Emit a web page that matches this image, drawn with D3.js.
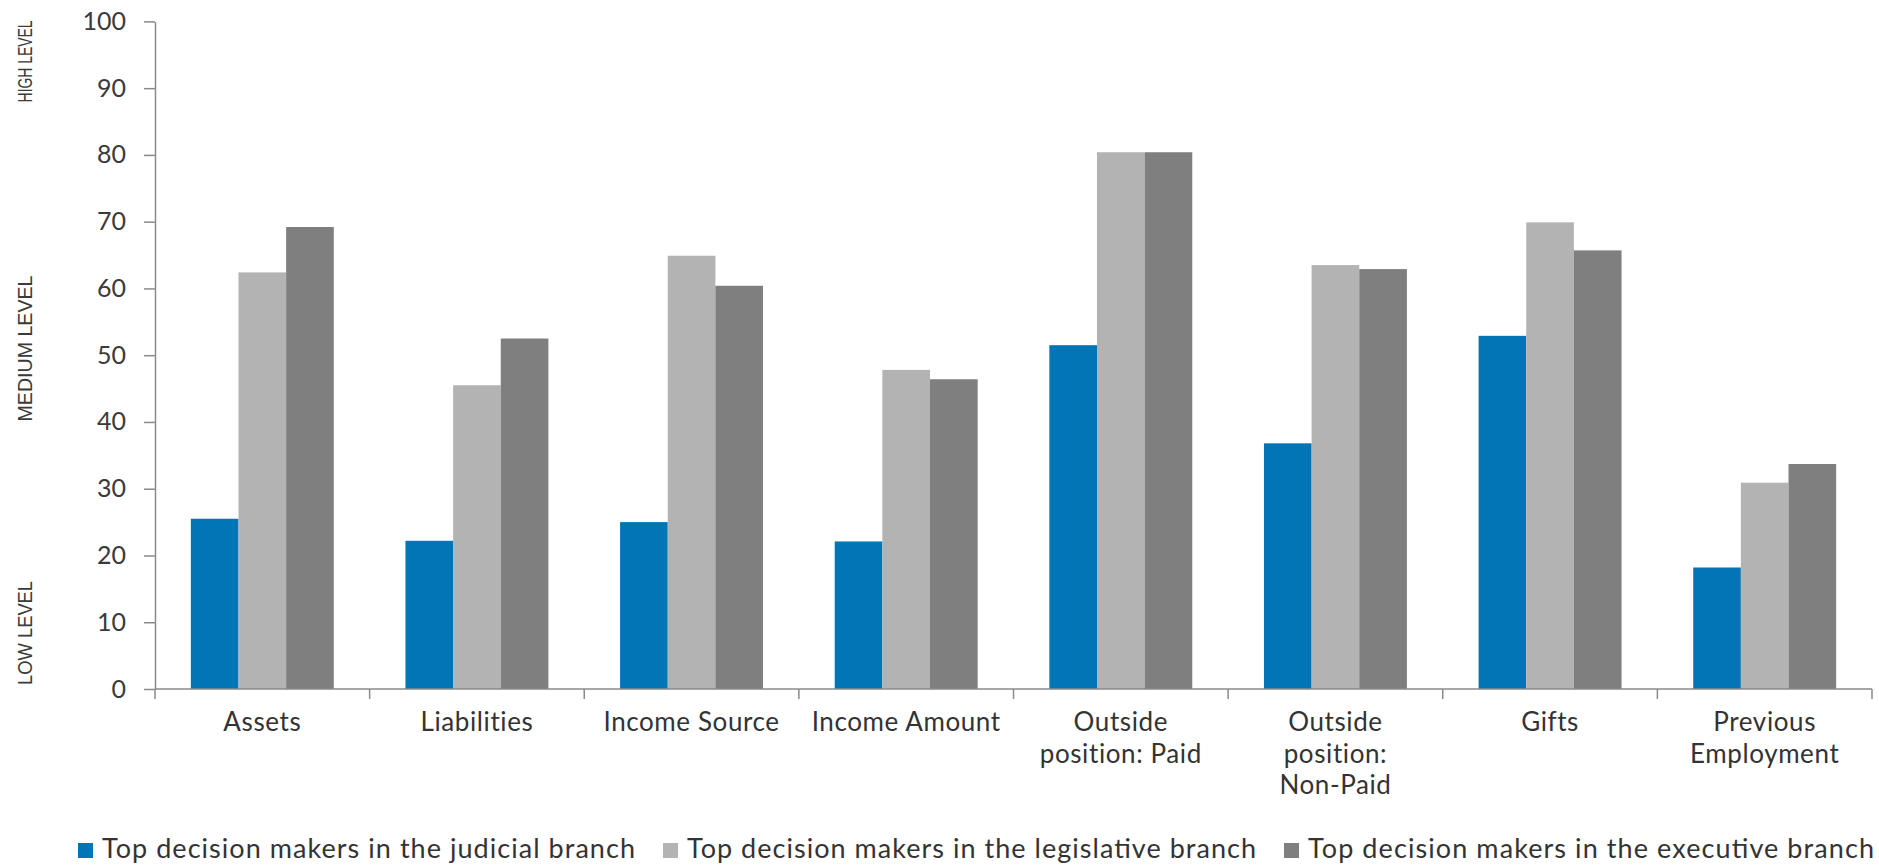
<!DOCTYPE html>
<html>
<head>
<meta charset="utf-8">
<script src="https://cdn.jsdelivr.net/npm/d3@7"></script>
<style>
  html, body { margin: 0; padding: 0; background: #fff; }
  svg { display: block; }
</style>
</head>
<body>
<svg id="chart" width="1879" height="865"></svg>
<script>
// ---- data ----
const categories = ["Assets", "Liabilities", "Income Source", "Income Amount",
  "Outside position: Paid", "Outside position: Non-Paid", "Gifts", "Previous Employment"];
const categoryLines = [["Assets"], ["Liabilities"], ["Income Source"], ["Income Amount"],
  ["Outside", "position: Paid"], ["Outside", "position:", "Non-Paid"], ["Gifts"], ["Previous", "Employment"]];
const seriesNames = ["Top decision makers in the judicial branch",
  "Top decision makers in the legislative branch",
  "Top decision makers in the executive branch"];
const judicial    = [25.5, 22.2, 25.0, 22.1, 51.5, 36.8, 52.9, 18.2];
const legislative = [62.4, 45.5, 64.9, 47.8, 80.4, 63.5, 69.9, 30.9];
const executive   = [69.2, 52.5, 60.4, 46.4, 80.4, 62.9, 65.7, 33.7];
const yTicks = [0, 10, 20, 30, 40, 50, 60, 70, 80, 90, 100];
const levelLabels = ["HIGH LEVEL", "MEDIUM LEVEL", "LOW LEVEL"];
const levelCenters = [94, 51, 8.4]; // y value at label centre

(function () {
// ---- layout ----
const colors = ["#0175b5", "#b3b3b3", "#7f7f7f"];
const mLeft = 155, mRight = 1872, mTop = 21.4, mBottom = 689;
const svg = d3.select("#chart");
const series = [judicial, legislative, executive];

const x0 = d3.scaleBand().domain(categories).range([mLeft, mRight])
  .paddingInner(0.334).paddingOuter(0.167);
const x1 = d3.scaleBand().domain(d3.range(series.length)).range([0, x0.bandwidth()]);
const y = d3.scaleLinear().domain([0, 100]).range([mBottom, mTop]);

// bars
const groups = svg.append("g").selectAll("g").data(categories).join("g")
  .attr("transform", d => `translate(${x0(d)},0)`);
groups.selectAll("rect")
  .data((d, i) => series.map((s, k) => ({ k, v: s[i] })))
  .join("rect")
  .attr("x", d => x1(d.k))
  .attr("width", x1.bandwidth())
  .attr("y", d => y(d.v))
  .attr("height", d => y(0) - y(d.v))
  .attr("fill", d => colors[d.k]);

// y axis
const yAxis = svg.append("g").attr("transform", `translate(${mLeft},0)`)
  .call(d3.axisLeft(y).tickValues(yTicks).tickSize(11).tickPadding(18).tickSizeOuter(0));
yAxis.select(".domain").attr("stroke", "#8a8a8a").attr("stroke-width", 1.5);
yAxis.selectAll(".tick line").attr("stroke", "#8a8a8a").attr("stroke-width", 1.5);
yAxis.selectAll(".tick text").attr("font-family", "Lato, 'Open Sans', sans-serif")
  .attr("font-size", 25).attr("fill", "#3a3a3a");

// x axis
const step = x0.step();
const bounds = d3.range(categories.length + 1).map(i => mLeft + i * step);
const xg = svg.append("g");
xg.append("line").attr("x1", mLeft).attr("x2", mRight).attr("y1", y(0)).attr("y2", y(0))
  .attr("stroke", "#8a8a8a").attr("stroke-width", 1.5);
xg.selectAll("line.t").data(bounds).join("line").attr("class", "t")
  .attr("x1", d => d).attr("x2", d => d).attr("y1", y(0)).attr("y2", y(0) + 10)
  .attr("stroke", "#8a8a8a").attr("stroke-width", 1.5);
xg.selectAll("text").data(categories).join("text")
  .attr("x", d => x0(d) + x0.bandwidth() / 2)
  .attr("y", 731)
  .attr("text-anchor", "middle")
  .attr("font-family", "Lato, 'Open Sans', sans-serif")
  .attr("font-size", 26)
  .attr("letter-spacing", 0.6)
  .attr("fill", "#333")
  .each(function (d, i) {
    d3.select(this).selectAll("tspan").data(categoryLines[i]).join("tspan")
      .attr("x", x0(d) + x0.bandwidth() / 2)
      .attr("dy", (t, j) => j === 0 ? 0 : 31.5)
      .text(t => t);
  });

// level labels (rotated, horizontally condensed by a scale transform)
const levelLengths = [82, 146, 104];
svg.append("g").selectAll("text").data(levelLabels).join("text")
  .attr("text-anchor", "middle")
  .attr("font-family", "'Liberation Sans', Arial, sans-serif")
  .attr("font-size", 21)
  .attr("fill", "#3a3a3a")
  .text(d => d)
  .each(function (d, i) {
    const natural = this.getComputedTextLength() || levelLengths[i];
    const sx = levelLengths[i] / natural;
    d3.select(this).attr("transform",
      `translate(32,${y(levelCenters[i])}) rotate(-90) scale(${sx},1)`);
  });

// legend
const legendX = [78, 663, 1284];
const legendW = [533, 569, 566];
const lg = svg.append("g").selectAll("g").data(seriesNames).join("g")
  .attr("transform", (d, i) => `translate(${legendX[i]},0)`);
lg.append("rect").attr("x", 0).attr("y", 843).attr("width", 15).attr("height", 15)
  .attr("fill", (d, i) => colors[i]);
lg.append("text").attr("x", 24).attr("y", 858)
  .attr("font-family", "Lato, 'Open Sans', sans-serif")
  .attr("font-size", 27)
  .attr("fill", "#333")
  .attr("textLength", (d, i) => legendW[i])
  .attr("lengthAdjust", "spacing")
  .text(d => d);
})();
</script>
</body>
</html>
